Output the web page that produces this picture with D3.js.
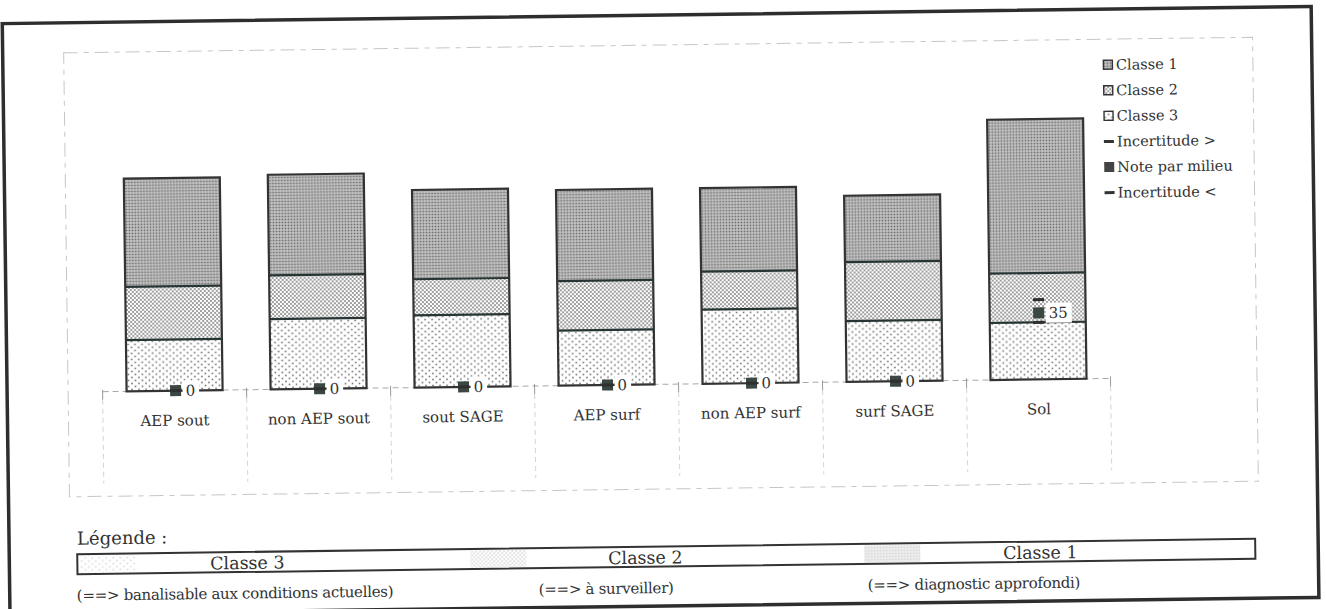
<!DOCTYPE html>
<html>
<head>
<meta charset="utf-8">
<script src="https://cdn.jsdelivr.net/npm/d3@7"></script>
<style>
  html, body { margin: 0; padding: 0; background: #fff; }
  svg { display: block; }
  text { font-family: "DejaVu Serif", "Liberation Serif", serif; fill: #333; }
</style>
</head>
<body>
<svg id="chart" width="1326" height="609"></svg>
<script>
// Milieux évalués
const categories = ["AEP sout", "non AEP sout", "sout SAGE", "AEP surf", "non AEP surf", "surf SAGE", "Sol"];
// Hauteur de chaque classe (empilées de bas en haut : classe 3, classe 2, classe 1)
const classe3 = [27, 37, 38, 29, 39, 32, 30];
const classe2 = [28, 23, 19, 26, 20, 31, 26];
const classe1 = [57, 53, 47, 48, 44, 35, 81];
// Note par milieu et bornes d'incertitude
const notes = [0, 0, 0, 0, 0, 0, 35];
const incertitudeHaute = [0, 0, 0, 0, 0, 0, 42];
const incertitudeBasse = [0, 0, 0, 0, 0, 0, 30];
// Légendes
const legendLabels = ["Classe 1", "Classe 2", "Classe 3", "Incertitude >", "Note par milieu", "Incertitude <"];
const legendKinds = ["c1", "c2", "c3", "line", "marker", "line"];
const bottomTitle = "Légende :";
const bottomLabels = ["Classe 3", "Classe 2", "Classe 1"];
const bottomPatterns = ["c3", "c2", "c1"];
const bottomNotes = ["(==> banalisable aux conditions actuelles)", "(==> à surveiller)", "(==> diagnostic approfondi)"];

const FONT = "'DejaVu Serif', 'Liberation Serif', serif";

const svg = d3.select("#chart");
const defs = svg.append("defs");

// Trames pointillées des classes
function dotPattern(id, w, h, bg, dots, size, color) {
  const p = defs.append("pattern").attr("id", id)
    .attr("patternUnits", "userSpaceOnUse").attr("width", w).attr("height", h);
  p.append("rect").attr("width", w).attr("height", h).attr("fill", bg);
  dots.forEach(([x, y]) => {
    p.append("rect").attr("x", x - size / 2).attr("y", y - size / 2)
      .attr("width", size).attr("height", size).attr("fill", color);
  });
}
dotPattern("c1", 3, 3, "#d0d0d0", [[1.5, 1.5]], 1.8, "#686868");
dotPattern("c2", 4, 4, "#ffffff", [[1, 1], [3, 3]], 1.6, "#6a6a6a");
dotPattern("c3", 7, 6, "#ffffff", [[1.5, 1.5], [5, 4.5]], 1.6, "#747474");

// Page légèrement inclinée
const root = svg.append("g").attr("transform", "rotate(-0.75,663,304)");

// Cadre général
root.append("rect").attr("x", 6).attr("y", 15).attr("width", 1309).attr("height", 591)
  .attr("fill", "none").attr("stroke", "#2e2e2e").attr("stroke-width", 3.5);

// Zone de tracé
root.append("rect").attr("x", 67).attr("y", 45).attr("width", 1189).attr("height", 444)
  .attr("fill", "none").attr("stroke", "#c6c6c6").attr("stroke-width", 1)
  .attr("stroke-dasharray", "14,6,5,6");

const y0 = 384.3;
const y = d3.scaleLinear().domain([0, 150]).range([y0, y0 - 150 * 1.9]);
const xCell = d3.scaleBand().domain(categories).range([101.5, 1109.5]).padding(0);
const xBar = d3.scaleBand().domain(categories).range([101.5, 1109.5])
  .paddingInner(1 / 3).paddingOuter(1 / 6);

// Axe des catégories et séparateurs
root.append("line").attr("x1", 101.5).attr("x2", 1109.5).attr("y1", y0).attr("y2", y0)
  .attr("stroke", "#a8a8a8").attr("stroke-dasharray", "6,4");
const bounds = categories.map(c => xCell(c)).concat([xCell.range()[1]]);
root.selectAll("line.sep").data(bounds).join("line").attr("class", "sep")
  .attr("x1", d => d).attr("x2", d => d).attr("y1", y0 + 8).attr("y2", y0 + 92)
  .attr("stroke", "#d4d4d4").attr("stroke-dasharray", "5,4");
root.selectAll("line.tick").data(bounds).join("line").attr("class", "tick")
  .attr("x1", d => d).attr("x2", d => d).attr("y1", y0 - 2).attr("y2", y0 + 8)
  .attr("stroke", "#9a9a9a");

const axis = root.append("g").attr("transform", `translate(0,${y0})`)
  .call(d3.axisBottom(xCell).tickSize(0));
axis.attr("font-family", null);
axis.select(".domain").remove();
axis.selectAll("text").attr("y", 29.7).attr("dy", "0.35em")
  .style("font-size", "15px").style("font-family", FONT).attr("fill", "#333");

// Barres empilées
const table = categories.map((c, i) => ({ cat: c, c3: classe3[i], c2: classe2[i], c1: classe1[i] }));
const series = d3.stack().keys(["c3", "c2", "c1"])(table);

series.forEach(s => {
  root.append("g").selectAll("rect").data(s).join("rect")
    .attr("x", d => xBar(d.data.cat)).attr("width", xBar.bandwidth())
    .attr("y", d => y(d[1])).attr("height", d => y(d[0]) - y(d[1]))
    .attr("fill", `url(#${s.key})`);
});
// Limites entre classes
series.slice(0, 2).forEach(s => {
  root.append("g").selectAll("line").data(s).join("line")
    .attr("x1", d => xBar(d.data.cat)).attr("x2", d => xBar(d.data.cat) + xBar.bandwidth())
    .attr("y1", d => y(d[1])).attr("y2", d => y(d[1]))
    .attr("stroke", "#263433").attr("stroke-width", 2.2);
});
// Contour des barres
root.append("g").selectAll("rect").data(table).join("rect")
  .attr("x", d => xBar(d.cat)).attr("width", xBar.bandwidth())
  .attr("y", d => y(d.c3 + d.c2 + d.c1)).attr("height", d => y0 - y(d.c3 + d.c2 + d.c1))
  .attr("fill", "none").attr("stroke", "#333").attr("stroke-width", 2.2);

// Notes par milieu avec incertitudes
const noteRows = categories.map((c, i) => ({ cat: c, note: notes[i], hi: incertitudeHaute[i], lo: incertitudeBasse[i] }));
const cxOf = c => xBar(c) + xBar.bandwidth() / 2 + 1;
const noteG = root.append("g");
noteRows.forEach(d => {
  const cx = cxOf(d.cat);
  const g = noteG.append("g");
  const bg = g.append("rect").attr("fill", "#fff");
  const t = g.append("text").attr("x", cx + 10).attr("y", y(d.note)).attr("dy", "0.35em")
    .style("font-size", "15px").text(d.note);
  const w = t.node().getComputedTextLength();
  bg.attr("x", cx + 7).attr("y", y(d.note) - 10).attr("width", w + 7).attr("height", 20);
  g.append("line").attr("x1", cx - 5.5).attr("x2", cx + 5.5).attr("y1", y(d.lo)).attr("y2", y(d.lo))
    .attr("stroke", "#2f2f2f").attr("stroke-width", 3);
  g.append("rect").attr("x", cx - 5.5).attr("y", y(d.note) - 5.5).attr("width", 11).attr("height", 11)
    .attr("fill", "#3b4743");
  g.append("line").attr("x1", cx - 5.5).attr("x2", cx + 5.5).attr("y1", y(d.hi)).attr("y2", y(d.hi))
    .attr("stroke", "#2f2f2f").attr("stroke-width", 3);
});

// Légende des séries
const legend = root.append("g").attr("transform", "translate(1106,70.5)");
legendLabels.forEach((lab, i) => {
  const row = legend.append("g").attr("transform", `translate(0,${i * 25.6})`);
  const k = legendKinds[i];
  if (k === "line") {
    row.append("line").attr("x1", 0).attr("x2", 10).attr("y1", 0).attr("y2", 0)
      .attr("stroke", "#333").attr("stroke-width", 3);
  } else if (k === "marker") {
    row.append("rect").attr("x", 0).attr("y", -5).attr("width", 10).attr("height", 10).attr("fill", "#444");
  } else {
    row.append("rect").attr("x", 0.5).attr("y", -4.5).attr("width", 9).attr("height", 9)
      .attr("fill", `url(#${k})`).attr("stroke", "#333").attr("stroke-width", 1.4);
  }
  row.append("text").attr("x", 13).attr("y", 0).attr("dy", "0.35em")
    .style("font-size", "14.5px").text(lab);
});

// Légende des classes en bas de page
root.append("text").attr("x", 74).attr("y", 537).style("font-size", "18px").text(bottomTitle);
root.append("rect").attr("x", 74).attr("y", 546.5).attr("width", 1178).attr("height", 20)
  .attr("fill", "none").attr("stroke", "#333").attr("stroke-width", 2);
const colLayout = [
  { swatch: 76, label: 244, note: 73 },
  { swatch: 467, label: 642, note: 535 },
  { swatch: 861, label: 1037, note: 864 }
];
bottomLabels.forEach((lab, i) => {
  const L = colLayout[i];
  root.append("rect").attr("x", L.swatch).attr("y", 548).attr("width", 56).attr("height", 17)
    .attr("fill", `url(#${bottomPatterns[i]})`).attr("opacity", 0.28);
  root.append("text").attr("x", L.label).attr("y", 563.5).attr("text-anchor", "middle")
    .style("font-size", "17.5px").text(lab);
  root.append("text").attr("x", L.note).attr("y", 593).style("font-size", "15px")
    .attr("letter-spacing", "-0.3px").text(bottomNotes[i]);
});
</script>
</body>
</html>
